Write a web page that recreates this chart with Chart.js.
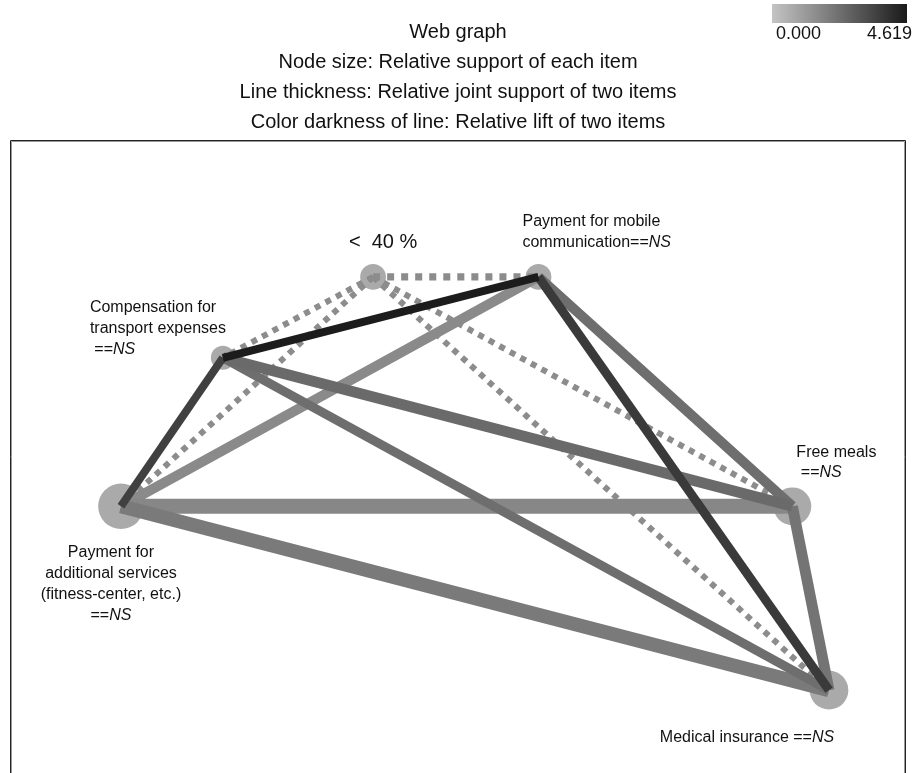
<!DOCTYPE html>
<html>
<head>
<meta charset="utf-8">
<title>Web graph</title>
<script src="https://cdn.jsdelivr.net/npm/chart.js@4.4.0/dist/chart.umd.min.js"></script>
<style>
  html, body { margin: 0; padding: 0; background: #fff; }
  #wrap { position: relative; width: 913px; height: 773px; }
</style>
</head>
<body>
<div id="wrap"><canvas id="webGraph"></canvas></div>
<script>
// items of the web graph (layout position, relative support)
var nodeNames = ['< 40 %', 'Payment for mobile communication', 'Compensation for transport expenses',
  'Payment for additional services (fitness-center, etc.)', 'Free meals', 'Medical insurance'];
var nodeX = [40.5, 59.0, 23.7, 12.3, 87.4, 91.5];
var nodeY = [78.5, 78.5, 65.7, 42.2, 42.2, 13.1];
var nodeSupport = [0.30, 0.30, 0.28, 0.53, 0.44, 0.45];

// node label text, "_..._" is italic
var labelLines = [
  ['<  40 %'],
  ['Payment for mobile', 'communication==_NS_'],
  ['Compensation for', 'transport expenses', ' ==_NS_'],
  ['Payment for', 'additional services', '(fitness-center, etc.)', '==_NS_'],
  ['Free meals', ' ==_NS_'],
  ['Medical insurance ==_NS_']
];

// links between two items
var edgeFrom = [1, 2, 1, 2, 1, 2, 4, 3, 3, 1, 0, 0, 0, 0, 0];
var edgeTo   = [2, 3, 5, 4, 4, 5, 5, 5, 4, 3, 1, 2, 3, 4, 5];
var edgeJointSupport = [0.133, 0.133, 0.15, 0.183, 0.167, 0.15, 0.183, 0.233, 0.25, 0.167, 0.117, 0.10, 0.10, 0.10, 0.10];
var edgeLift = [4.56, 3.59, 3.75, 2.45, 2.34, 2.34, 2.17, 2.01, 1.66, 1.58, 1.52, 1.52, 1.52, 1.52, 1.52];
var edgeDotted = [false, false, false, false, false, false, false, false, false, false, true, true, true, true, true];

// colour bar of lift
var liftTicks = ['0.000', '4.619'];
var liftMax = 4.619;

var titleLines = ['Web graph', 'Node size: Relative support of each item',
  'Line thickness: Relative joint support of two items', 'Color darkness of line: Relative lift of two items'];

var FONT = '"Liberation Sans", Arial, sans-serif';

function liftGray(v) {
  var g = Math.round(196 - v / liftMax * 170);
  return 'rgb(' + g + ',' + g + ',' + g + ')';
}

// where each label sits relative to its node (px)
var labelPlace = [
  {dx: 10, dy: -34, align: 'center', size: 20, lh: 21},
  {dx: -16, dy: -55, align: 'left', size: 16, lh: 21},
  {dx: -133, dy: -50, align: 'left', size: 16, lh: 21},
  {dx: -10, dy: 46, align: 'center', size: 16, lh: 21},
  {dx: 4, dy: -54, align: 'left', size: 16, lh: 20},
  {dx: -82, dy: 47, align: 'center', size: 16, lh: 21}
];

var datasets = [];
for (var i = 0; i < edgeFrom.length; i++) {
  var w = edgeJointSupport[i] * 60;
  datasets.push({
    label: nodeNames[edgeFrom[i]] + ' - ' + nodeNames[edgeTo[i]],
    data: [{x: nodeX[edgeFrom[i]], y: nodeY[edgeFrom[i]]}, {x: nodeX[edgeTo[i]], y: nodeY[edgeTo[i]]}],
    showLine: true,
    borderColor: liftGray(edgeLift[i]),
    borderWidth: w,
    borderDash: edgeDotted[i] ? [w, w] : [],
    borderCapStyle: 'butt',
    pointRadius: 0,
    order: edgeDotted[i] ? 20 : 10
  });
}
datasets.push({
  label: 'items',
  data: nodeX.map(function(x, k) { return {x: x, y: nodeY[k]}; }),
  pointRadius: nodeSupport.map(function(s) { return s * 43; }),
  pointBackgroundColor: '#aaaaaa',
  pointBorderWidth: 0,
  order: 30
});

function drawRich(ctx, text, x, y, size, align) {
  var parts = text.split('_');
  var widths = parts.map(function(p, k) {
    ctx.font = (k % 2 ? 'italic ' : '') + size + 'px ' + FONT;
    return ctx.measureText(p).width;
  });
  var total = widths.reduce(function(a, b) { return a + b; }, 0);
  var cx = align === 'center' ? x - total / 2 : x;
  parts.forEach(function(p, k) {
    ctx.font = (k % 2 ? 'italic ' : '') + size + 'px ' + FONT;
    ctx.fillText(p, cx, y);
    cx += widths[k];
  });
}

var webGraphPlugin = {
  id: 'webGraph',
  beforeDatasetsDraw: function(chart) {
    var ctx = chart.ctx, a = chart.chartArea;
    ctx.save();
    ctx.lineWidth = 1;
    ctx.strokeStyle = '#222';
    ctx.beginPath();
    ctx.moveTo(a.left - 0.5, chart.height);
    ctx.lineTo(a.left - 0.5, a.top - 0.5);
    ctx.lineTo(a.right + 0.5, a.top - 0.5);
    ctx.lineTo(a.right + 0.5, chart.height);
    ctx.stroke();
    ctx.strokeStyle = '#999';
    ctx.beginPath();
    ctx.moveTo(a.left + 0.5, chart.height);
    ctx.lineTo(a.left + 0.5, a.top + 0.5);
    ctx.lineTo(a.right - 0.5, a.top + 0.5);
    ctx.lineTo(a.right - 0.5, chart.height);
    ctx.stroke();
    ctx.restore();
  },
  afterDatasetsDraw: function(chart) {
    var ctx = chart.ctx;
    var xs = chart.scales.x, ys = chart.scales.y;
    ctx.save();
    ctx.fillStyle = '#111';
    ctx.textBaseline = 'middle';
    ctx.textAlign = 'left';
    labelLines.forEach(function(lines, k) {
      var p = labelPlace[k];
      var px = xs.getPixelForValue(nodeX[k]) + p.dx;
      var py = ys.getPixelForValue(nodeY[k]) + p.dy;
      lines.forEach(function(line, j) {
        drawRich(ctx, line, px, py + j * p.lh, p.size, p.align);
      });
    });

    // lift colour bar
    var bx = 772, by = 4, bw = 135, bh = 19;
    var grad = ctx.createLinearGradient(bx, 0, bx + bw, 0);
    grad.addColorStop(0, liftGray(0));
    grad.addColorStop(1, liftGray(liftMax));
    ctx.fillStyle = grad;
    ctx.fillRect(bx, by, bw, bh);
    ctx.fillStyle = '#111';
    ctx.font = '18px ' + FONT;
    ctx.textAlign = 'left';
    ctx.fillText(liftTicks[0], 776, 34);
    ctx.textAlign = 'right';
    ctx.fillText(liftTicks[1], 912, 34);
    ctx.restore();
  }
};

new Chart(document.getElementById('webGraph'), {
  type: 'scatter',
  data: { datasets: datasets },
  options: {
    responsive: true,
    maintainAspectRatio: false,
    animation: false,
    events: [],
    layout: { autoPadding: false, padding: { left: 11, right: 8, top: 0, bottom: 0 } },
    scales: {
      x: { type: 'linear', min: 0, max: 100, display: false },
      y: { type: 'linear', min: 0, max: 100, display: false }
    },
    plugins: {
      legend: { display: false },
      tooltip: { enabled: false },
      title: {
        display: true,
        text: titleLines,
        color: '#111',
        font: { family: FONT, size: 20, weight: 'normal', lineHeight: 1.5 },
        padding: { top: 17, bottom: 4 }
      }
    }
  },
  plugins: [webGraphPlugin]
});
</script>
</body>
</html>
